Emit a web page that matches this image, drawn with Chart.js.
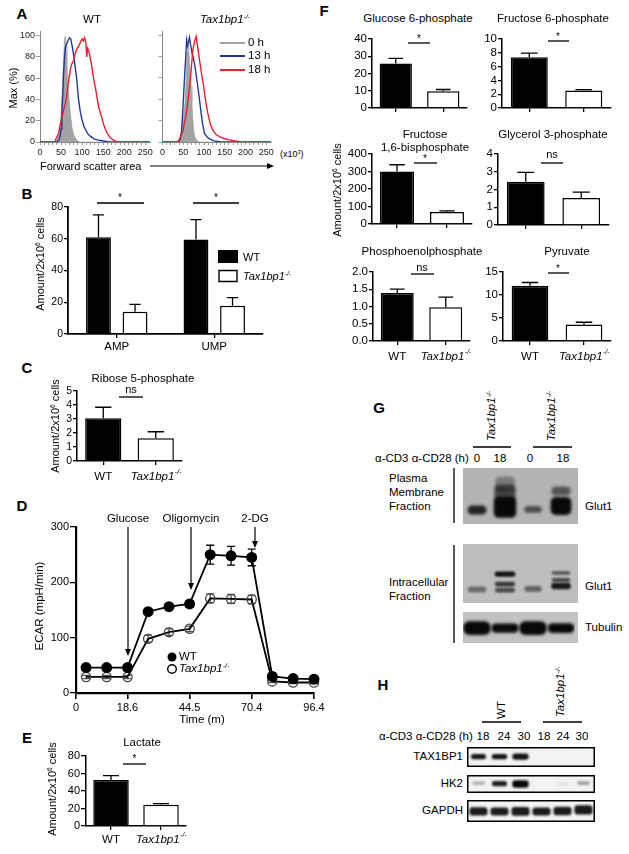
<!DOCTYPE html>
<html><head><meta charset="utf-8">
<script src="https://cdn.jsdelivr.net/npm/chart.js@4.4.1/dist/chart.umd.min.js"></script>
<style>
html,body{margin:0;padding:0;background:#fff}
body{position:relative;width:629px;height:854px;overflow:hidden;font-family:"Liberation Sans",Arial,Helvetica,sans-serif;color:#000}
.t{position:absolute;white-space:nowrap;line-height:1}
canvas{position:absolute}
svg{position:absolute;left:0;top:0}
.sup{font-size:60%;position:relative;top:-0.6em}
</style></head><body>
<script>
// ================= DATA =================
// A: forward scatter histograms  [FSC-A (x10^3), % of max]
const fscTicks = [0, 50, 100, 150, 200, 250];
const maxTicks = [0, 20, 40, 60, 80, 100];
const wt0h = [[0,0],[35,0],[40,2],[45,8],[50,26],[53,48],[56,78],[58,96],[60,100],[62,90],[64,74],[66,58],[68,46],[70,36],[73,24],[76,14],[80,7],[85,3],[90,1],[95,0],[260,0]];
const wt13h = [[0,0],[40,0],[45,2],[48,6],[50,12],[52,28],[54,45],[56,65],[58,78],[60,88],[63,92],[66,95],[70,98],[73,97],[76,91],[79,84],[83,72],[87,60],[91,42],[95,30],[99,22],[104,15],[110,10],[115,7],[121,5],[128,3],[136,2],[150,1],[165,0],[260,0]];
const wt18h = [[0,0],[35,0],[38,3],[44,8],[49,18],[55,28],[60,36],[63,42],[67,55],[71,66],[75,73],[80,77],[84,84],[88,88],[92,90],[96,94],[100,97],[103,95],[106,98],[109,93],[111,80],[113,88],[116,85],[120,78],[124,68],[128,58],[132,50],[136,40],[140,32],[145,25],[150,18],[155,12],[160,8],[165,5],[170,3],[178,1],[185,0],[260,0]];
const ko0h = [[0,0],[38,0],[42,3],[46,11],[50,22],[54,38],[57,60],[59,85],[61,97],[63,88],[66,70],[69,52],[71,38],[73,22],[75,12],[78,5],[82,2],[88,0],[260,0]];
const ko13h = [[0,0],[38,0],[42,2],[46,10],[50,38],[53,60],[56,80],[58,95],[60,90],[63,94],[65,98],[68,90],[72,82],[77,74],[81,63],[85,52],[89,40],[93,27],[97,16],[101,8],[107,5],[113,3],[125,1],[140,0],[260,0]];
const ko18h = [[0,0],[36,0],[40,2],[45,6],[50,12],[54,20],[58,28],[62,42],[66,54],[70,72],[73,86],[77,94],[81,99],[85,88],[89,77],[94,64],[99,52],[104,38],[109,27],[115,17],[121,11],[129,7],[137,5],[150,3],[161,2],[175,1],[190,0],[260,0]];

// genotypes
const genotypes = ['WT', 'Tax1bp1-/-'];

// B: nucleotides
const nucleotides = ['AMP', 'UMP'];
const nucWT = [61, 59.5];
const nucWTErr = [14, 12.5];
const nucKO = [14, 17.8];
const nucKOErr = [4.7, 5.1];

// C: ribose 5-phosphate
const riboseVal = [3.05, 1.62];
const riboseErr = [0.79, 0.47];

// D: ECAR time course
const ecarTime = [1.3, 9.9, 18.6, 27.2, 35.9, 44.5, 53.1, 61.8, 70.4, 79.0, 87.7, 96.4];
const ecarWT = [46, 46, 46, 147, 156, 161, 250, 248, 245, 30, 26, 25];
const ecarWTErr = [3, 3, 3, 5, 5, 6, 17, 17, 15, 3, 2, 2];
const ecarKO = [29, 29, 29, 98, 110, 116, 171, 170, 169, 21, 19, 19];
const ecarKOErr = [3, 3, 3, 6, 6, 5, 8, 8, 8, 2, 2, 2];
const timeTickValues = [-2.9, 18.6, 44.5, 70.4, 96.4];
const timeTickLabels = ['0', '18.6', '44.5', '70.4', '96.4'];

// E: lactate
const lactateVal = [52.5, 24.2];
const lactateErr = [5, 1.4];

// F: glycolytic metabolites
const fTitles = ['Glucose 6-phosphate', 'Fructose 6-phosphate', 'Fructose 1,6-bisphosphate', 'Glycerol 3-phosphate', 'Phosphoenolphosphate', 'Pyruvate'];
const fWT = [25.8, 7.33, 299, 2.44, 1.39, 12.0];
const fWTErr = [2.9, 0.62, 39, 0.52, 0.11, 0.7];
const fKO = [9.7, 2.52, 69, 1.52, 0.98, 3.57];
const fKOErr = [1.0, 0.15, 6, 0.33, 0.29, 0.5];
const fMax = [40, 10, 400, 4, 2, 15];
const fStep = [10, 2, 100, 1, 0.5, 5];

// G/H: western blots. band = [lane, migration(0 top..1 bottom), band height, intensity, band width]
const gLanes = ['0', '18', '0', '18'];
const gMembraneBands = [[0,0.75,0.16,0.85,0.68],[1,0.3,0.3,0.35,0.7],[1,0.45,0.3,0.6,0.76],[1,0.7,0.38,1,0.8],[2,0.74,0.12,0.6,0.62],[3,0.41,0.16,0.55,0.7],[3,0.68,0.32,1,0.74]];
const gIntraBands = [[0,0.77,0.1,0.45,0.66],[1,0.51,0.09,0.95,0.74],[1,0.68,0.08,0.75,0.72],[1,0.78,0.08,0.65,0.72],[2,0.76,0.1,0.5,0.62],[3,0.49,0.06,0.6,0.66],[3,0.61,0.07,0.65,0.66],[3,0.71,0.11,0.9,0.7]];
const gTubulinBands = [[0,0.52,0.45,1,0.98],[1,0.52,0.3,1,0.98],[2,0.52,0.45,1,0.98],[3,0.52,0.32,1,0.95]];
const hLanes = ['18', '24', '30', '18', '24', '30'];
const hTaxBands = [[0,0.48,0.26,0.95,0.72],[1,0.48,0.26,0.95,0.74],[2,0.48,0.32,0.95,0.78]];
const hHk2Bands = [[0,0.45,0.18,0.3,0.6],[1,0.48,0.28,0.9,0.72],[2,0.5,0.42,1,0.78],[4,0.5,0.12,0.1,0.5],[5,0.45,0.2,0.35,0.6]];
const hGapdhBands = [[0,0.52,0.38,0.92,0.86],[1,0.52,0.36,0.92,0.86],[2,0.52,0.4,0.92,0.86],[3,0.52,0.36,0.92,0.86],[4,0.5,0.38,0.92,0.86],[5,0.45,0.42,0.92,0.86]];

// ================= HELPERS =================
const FONT = '"Liberation Sans", Arial, Helvetica, sans-serif';
Chart.defaults.font.family = FONT;
Chart.defaults.color = '#000';
Chart.defaults.animation = false;

const TAX = '<i>Tax1bp1</i><span class="sup"><i>-/-</i></span>';
function T(html, x, y, o = {}) {
  const d = document.createElement('div');
  d.className = 't'; d.innerHTML = html;
  d.style.left = x + 'px'; d.style.top = y + 'px';
  d.style.fontSize = (o.s || 11.5) + 'px';
  if (o.b) d.style.fontWeight = 'bold';
  if (o.i) d.style.fontStyle = 'italic';
  let tr = 'translate(-50%,-50%)';
  if (o.a === 'l') tr = 'translate(0,-50%)';
  if (o.a === 'r') tr = 'translate(-100%,-50%)';
  if (o.rot) tr = 'translate(-50%,-50%) rotate(-90deg)';
  d.style.transform = tr;
  document.body.appendChild(d);
}

function drawRich(ctx, label, x, y, size) {
  let main = label, sup = '';
  if (label.endsWith('-/-')) { main = label.slice(0, -3); sup = '-/-'; }
  const it = sup ? 'italic ' : '';
  ctx.save();
  ctx.fillStyle = '#000'; ctx.textBaseline = 'middle'; ctx.textAlign = 'left';
  ctx.font = it + size + 'px ' + FONT;
  const w1 = ctx.measureText(main).width;
  ctx.font = it + (size * 0.6) + 'px ' + FONT;
  const w2 = sup ? ctx.measureText(sup).width : 0;
  const sx = x - (w1 + w2) / 2;
  ctx.font = it + size + 'px ' + FONT;
  ctx.fillText(main, sx, y);
  if (sup) { ctx.font = it + (size * 0.6) + 'px ' + FONT; ctx.fillText(sup, sx + w1 + 0.5, y - size * 0.4); }
  ctx.restore();
}

const errPlugin = {
  id: 'errbars',
  beforeDatasetsDraw(chart) {
    const ctx = chart.ctx, ys = chart.scales.y;
    chart.data.datasets.forEach((ds, i) => {
      if (!ds.errors) return;
      const meta = chart.getDatasetMeta(i);
      meta.data.forEach((el, j) => {
        const v = ds.data[j]; const e = ds.errors[j];
        if (v == null || e == null) return;
        const val = typeof v === 'object' ? v.y : v;
        const x = el.x;
        const yTop = ys.getPixelForValue(val + e);
        const yBot = ds.errBoth ? ys.getPixelForValue(val - e) : el.y;
        const cap = ds.capW || (el.width ? el.width * 0.45 : 8);
        ctx.save(); ctx.strokeStyle = ds.errColor || '#000'; ctx.lineWidth = 1.3;
        ctx.beginPath();
        ctx.moveTo(x, yBot); ctx.lineTo(x, yTop);
        ctx.moveTo(x - cap / 2, yTop); ctx.lineTo(x + cap / 2, yTop);
        if (ds.errBoth) { ctx.moveTo(x - cap / 2, yBot); ctx.lineTo(x + cap / 2, yBot); }
        ctx.stroke(); ctx.restore();
      });
    });
  }
};
const catLabelPlugin = {
  id: 'catLabels',
  afterDraw(chart, args, opts) {
    if (!opts || !opts.show) return;
    const xs = chart.scales.x;
    chart.data.labels.forEach((lab, i) => {
      drawRich(chart.ctx, lab, xs.getPixelForValue(i), chart.chartArea.bottom + opts.dy, opts.size || 11.5);
    });
  }
};
const blotPlugin = {
  id: 'blot',
  beforeDraw(chart, args, opts) {
    if (!opts || !opts.bg) return;
    const ctx = chart.ctx;
    ctx.save(); ctx.fillStyle = opts.bg; ctx.fillRect(0, 0, chart.width, chart.height); ctx.restore();
  },
  beforeDatasetsDraw(chart, args, opts) {
    if (!opts || !opts.blur) return;
    chart.ctx.save(); chart.ctx.filter = 'blur(' + opts.blur + 'px)';
  },
  afterDatasetsDraw(chart, args, opts) {
    if (!opts || !opts.blur) return;
    chart.ctx.restore();
  },
  afterDraw(chart, args, opts) {
    if (!opts || !opts.border) return;
    const ctx = chart.ctx;
    ctx.save(); ctx.strokeStyle = '#000'; ctx.lineWidth = 1.5;
    ctx.strokeRect(0.75, 0.75, chart.width - 1.5, chart.height - 1.5); ctx.restore();
  }
};
Chart.register(errPlugin, catLabelPlugin, blotPlugin);

// area = [x0,x1,y0,y1] plot area in page px; pad = [L,R,T,B]
function mk(area, pad, config) {
  const w = Math.round(area[1] - area[0] + pad[0] + pad[1]);
  const h = Math.round(area[3] - area[2] + pad[2] + pad[3]);
  const c = document.createElement('canvas');
  c.width = w; c.height = h;
  c.style.left = (area[0] - pad[0]) + 'px'; c.style.top = (area[2] - pad[2]) + 'px';
  c.style.width = w + 'px'; c.style.height = h + 'px';
  document.body.appendChild(c);
  const o = config.options = config.options || {};
  o.responsive = false; o.animation = false; o.devicePixelRatio = 1; o.events = [];
  o.plugins = Object.assign({ legend: { display: false }, tooltip: { enabled: false } }, o.plugins || {});
  if (o.scales && o.scales.x && o.scales.x.display !== false) {
    o.layout = { padding: { left: 0, right: pad[1], top: pad[2], bottom: 0 } };
    o.scales.x.afterFit = s => { s.height = pad[3]; };
    o.scales.y.afterFit = s => { s.width = pad[0]; };
  } else {
    o.layout = { padding: { left: pad[0], right: pad[1], top: pad[2], bottom: pad[3] } };
  }
  return new Chart(c, config);
}
function catX(lw) {
  return { type: 'category', offset: true, ticks: { display: false },
    grid: { offset: false, drawOnChartArea: false, drawTicks: true, tickLength: 4, color: '#000', lineWidth: 1.3 },
    border: { display: true, color: '#000', width: lw || 1.5 } };
}
function linY(min, max, step, size, tl, fmt, lw) {
  const t = { stepSize: step, autoSkip: false, font: { size: size }, padding: 1, color: '#000' };
  if (fmt) t.callback = fmt;
  return { type: 'linear', min: min, max: max, ticks: t,
    grid: { drawOnChartArea: false, drawTicks: true, tickLength: tl, color: '#000', lineWidth: 1.3 },
    border: { display: true, color: '#000', width: lw || 1.5 } };
}
function pairBars(area, pad, labels, vals, errs, yAx, barPct, dy) {
  return mk(area, pad, {
    type: 'bar',
    data: { labels: labels, datasets: [{ data: vals, errors: errs, backgroundColor: ['#000', '#fff'], borderColor: '#000', borderWidth: 1.5, barPercentage: barPct, categoryPercentage: 1 }] },
    options: { scales: { x: catX(), y: yAx }, plugins: { catLabels: { show: dy != null, dy: dy, size: 11.5 } } }
  });
}
function blot(area, pad, lanes, bands, bg, border, blur, radius) {
  return mk(area, pad, {
    type: 'bar',
    data: { labels: lanes, datasets: bands.map(b => ({
      data: lanes.map((_, i) => i === b[0] ? [b[1] - b[2] / 2, b[1] + b[2] / 2] : null),
      backgroundColor: 'rgba(8,8,8,' + b[3] + ')', borderWidth: 0, borderRadius: radius, borderSkipped: false,
      grouped: false, barPercentage: b[4], categoryPercentage: 1 })) },
    options: { scales: { x: { display: false, offset: true }, y: { display: false, min: 0, max: 1, reverse: true } },
      plugins: { blot: { bg: bg, border: border, blur: blur } } }
  });
}

// ================= A: histograms =================
function histo(area, pad, d0, d13, d18, showY) {
  const ln = (d, col) => ({ data: d.map(p => ({ x: p[0], y: p[1] })), showLine: true, pointRadius: 0, borderColor: col, borderWidth: 1.4, fill: false, tension: 0 });
  const gray = { data: d0.map(p => ({ x: p[0], y: p[1] })), showLine: true, pointRadius: 0, borderColor: '#a3a3a3', borderWidth: 0.6, backgroundColor: '#a3a3a3', fill: 'origin' };
  return mk(area, pad, {
    type: 'scatter',
    data: { datasets: [ln(d18, '#e8202a'), ln(d13, '#22389e'), gray] },
    options: { scales: {
      x: { type: 'linear', min: 0, max: 262,
        afterBuildTicks: s => { const t = []; for (let v = 0; v <= 250; v += 10) t.push({ value: v }); s.ticks = t; },
        ticks: { autoSkip: false, maxRotation: 0, font: { size: 9 }, padding: 2, color: '#222', callback: v => fscTicks.includes(v) ? String(v) : '' },
        grid: { drawOnChartArea: false, tickLength: 3, color: '#888', lineWidth: 0.8 }, border: { color: '#888', width: 1 } },
      y: { type: 'linear', min: 0, max: 104,
        afterBuildTicks: s => { s.ticks = maxTicks.map(v => ({ value: v })); },
        ticks: { display: showY, autoSkip: false, font: { size: 9 }, padding: 1, color: '#222' },
        grid: { drawOnChartArea: false, tickLength: 4, color: '#888', lineWidth: 0.8 }, border: { color: '#888', width: 1 } }
    } }
  });
}
histo([40, 151, 31, 142], [30, 4, 6, 18], wt0h, wt13h, wt18h, true);
histo([162, 272, 31, 142], [4, 4, 6, 18], ko0h, ko13h, ko18h, false);

// ================= B =================
mk([68, 263, 207, 334], [30, 6, 8, 22], {
  type: 'bar',
  data: { labels: nucleotides, datasets: [
    { data: nucWT, errors: nucWTErr, backgroundColor: '#000', borderColor: '#000', borderWidth: 1.5, barPercentage: 0.68, categoryPercentage: 0.75 },
    { data: nucKO, errors: nucKOErr, backgroundColor: '#fff', borderColor: '#000', borderWidth: 1.5, barPercentage: 0.68, categoryPercentage: 0.75 } ] },
  options: { scales: { x: catX(1.8), y: linY(0, 80, 20, 10.5, 4, null, 1.8) }, plugins: { catLabels: { show: true, dy: 13, size: 11.5 } } }
});

// ================= C =================
pairBars([77, 182, 391, 461], [26, 6, 8, 24], genotypes, riboseVal, riboseErr, linY(0, 5, 1, 10.5, 4), 0.69, 16);

// ================= D =================
mk([76, 314, 527, 693], [40, 14, 10, 24], {
  type: 'scatter',
  data: { datasets: [
    { data: ecarTime.map((t, i) => ({ x: t, y: ecarWT[i] })), errors: ecarWTErr, errBoth: true, capW: 8, showLine: true, borderColor: '#000', borderWidth: 1.8,
      pointRadius: 4.6, pointBackgroundColor: '#000', pointBorderColor: '#000', clip: false },
    { data: ecarTime.map((t, i) => ({ x: t, y: ecarKO[i] })), errors: ecarKOErr, errBoth: true, errColor: '#555', capW: 8, showLine: true, borderColor: '#000', borderWidth: 1.8,
      pointRadius: 4.6, pointBackgroundColor: 'rgba(255,255,255,0)', pointBorderColor: '#444', pointBorderWidth: 1.3, clip: false } ] },
  options: { scales: {
    x: { type: 'linear', min: -2.9, max: 96.4,
      afterBuildTicks: s => { s.ticks = timeTickValues.map(v => ({ value: v })); },
      ticks: { autoSkip: false, maxRotation: 0, font: { size: 11 }, padding: 2, color: '#000', callback: (v, i) => timeTickLabels[i] },
      grid: { drawOnChartArea: false, tickLength: 6, color: '#000', lineWidth: 1.6 }, border: { color: '#000', width: 2.2 } },
    y: linY(0, 300, 100, 11, 6, null, 2.2)
  } }
});

// ================= E =================
pairBars([86, 186, 756, 826], [30, 6, 8, 22], genotypes, lactateVal, lactateErr, linY(0, 80, 20, 11, 5), 0.71, 14);

// ================= F =================
const fAreas = [[372, 467, 38, 108], [502, 611, 38, 108], [372, 472, 153, 224], [498, 609, 153, 225], [373, 470, 271, 341], [503, 611, 271, 341]];
fAreas.forEach((a, k) => {
  const fmt = fMax[k] === 2 ? (v => v.toFixed(1)) : null;
  const withLabels = k >= 4;
  pairBars(a, [30, 6, 7, withLabels ? 24 : 8], genotypes, [fWT[k], fKO[k]], [fWTErr[k], fKOErr[k]],
    linY(0, fMax[k], fStep[k], 11.5, 4, fmt), 0.68, withLabels ? 16 : null);
});

// ================= G / H blots =================
blot([463, 575, 468, 524], [0, 3, 0, 0], gLanes, gMembraneBands, '#b4b4b4', false, 1.8, 5);
blot([463, 575, 544, 603], [0, 3, 0, 0], gLanes, gIntraBands, '#bebebe', false, 1.2, 3);
blot([463, 575, 612, 643], [0, 3, 0, 0], gLanes, gTubulinBands, '#c2c2c2', false, 1.4, 6);
blot([468, 594, 747, 767], [1, 1, 0, 0], hLanes, hTaxBands, '#f2f2f2', true, 1.0, 3);
blot([468, 594, 775, 793], [1, 1, 0, 0], hLanes, hHk2Bands, '#f2f2f2', true, 1.0, 3);
blot([468, 594, 800, 822], [1, 1, 0, 0], hLanes, hGapdhBands, '#f2f2f2', true, 1.0, 3);

// ================= TEXT =================
[['A', 22, 13], ['B', 27, 193], ['C', 27, 367], ['D', 22, 505], ['E', 27, 737], ['F', 324, 10], ['G', 379, 407], ['H', 383, 684]]
  .forEach(p => T(p[0], p[1], p[2], { s: 15, b: true }));
// A
T('WT', 92, 20, { s: 11.5 });
T(TAX, 225, 20, { s: 11.5 });
T('0 h', 248, 43, { a: 'l', s: 11.5 });
T('13 h', 248, 56, { a: 'l', s: 11.5 });
T('18 h', 248, 70, { a: 'l', s: 11.5 });
T('Max (%)', 13, 88, { rot: true, s: 11 });
T('(x10<span class="sup">3</span>)', 280, 154, { a: 'l', s: 9 });
T('Forward scatter area', 40, 166, { a: 'l', s: 11 });
// B
const AMT = 'Amount/2x10<span class="sup">6</span> cells';
T(AMT, 40, 264, { rot: true, s: 11 });
T('*', 120, 198, { s: 10 });
T('*', 216, 198, { s: 10 });
T('WT', 243, 257, { a: 'l', s: 11 });
T(TAX, 243, 276, { a: 'l', s: 11 });
// C
T('Ribose 5-phosphate', 143, 379, { s: 11.5 });
T(AMT, 55, 426, { rot: true, s: 11 });
T('ns', 131, 389, { s: 11 });
// D
T('Glucose', 128, 519, { s: 11.5 });
T('Oligomycin', 191, 519, { s: 11.5 });
T('2-DG', 255, 519, { s: 11.5 });
T('ECAR (mpH/min)', 40, 606, { rot: true, s: 11.5 });
T('Time (m)', 202, 720, { s: 11.5 });
T('WT', 179, 657, { a: 'l', s: 11.5 });
T(TAX, 179, 669, { a: 'l', s: 11.5 });
// E
T('Lactate', 142, 743, { s: 11.5 });
T(AMT, 52, 789, { rot: true, s: 11 });
T('*', 134.5, 759, { s: 10 });
// F
T(fTitles[0], 418, 19); T(fTitles[1], 553, 19);
T('Fructose', 425, 135); T('1,6-bisphosphate', 425, 148);
T(fTitles[3], 553, 135); T(fTitles[4], 422, 252); T(fTitles[5], 567, 252);
T(AMT, 337, 190, { rot: true, s: 11 });
T('*', 419, 39, { s: 10 }); T('*', 558, 37, { s: 10 }); T('*', 425, 159, { s: 10 });
T('ns', 552, 154, { s: 11 }); T('ns', 422, 267, { s: 11 }); T('*', 558, 269, { s: 10 });
// G
T(TAX, 492, 416, { rot: true, s: 11.5 });
T(TAX, 552, 416, { rot: true, s: 11.5 });
T('α-CD3 α-CD28 (h)', 375, 459, { a: 'l', s: 11.5 });
[[gLanes[0], 477], [gLanes[1], 500], [gLanes[2], 530], [gLanes[3], 563]].forEach(p => T(p[0], p[1], 459, { s: 11.5 }));
T('Plasma', 389, 479, { a: 'l' }); T('Membrane', 389, 493, { a: 'l' }); T('Fraction', 389, 507, { a: 'l' });
T('Glut1', 585, 507, { a: 'l' });
T('Intracellular', 389, 583, { a: 'l' }); T('Fraction', 389, 597, { a: 'l' });
T('Glut1', 585, 587, { a: 'l' });
T('Tubulin', 585, 628, { a: 'l' });
// H
T('WT', 502, 710, { rot: true, s: 11.5 });
T(TAX, 561, 692, { rot: true, s: 11.5 });
T('α-CD3 α-CD28 (h)', 379, 737, { a: 'l', s: 11.5 });
[483, 504, 524, 544, 563, 582].forEach((x, i) => T(hLanes[i], x, 737, { s: 11.5 }));
T('TAX1BP1', 463, 757, { a: 'r' });
T('HK2', 463, 784, { a: 'r' });
T('GAPDH', 463, 811, { a: 'r' });

// ================= LINES (svg overlay) =================
const NS = 'http://www.w3.org/2000/svg';
const svg = document.createElementNS(NS, 'svg');
svg.setAttribute('width', 629); svg.setAttribute('height', 854);
document.body.appendChild(svg);
function L(x1, y1, x2, y2, col, w) {
  const l = document.createElementNS(NS, 'line');
  l.setAttribute('x1', x1); l.setAttribute('y1', y1); l.setAttribute('x2', x2); l.setAttribute('y2', y2);
  l.setAttribute('stroke', col || '#000'); l.setAttribute('stroke-width', w || 1.3);
  svg.appendChild(l);
}
function P(pts, fill, stroke, sw) {
  const p = document.createElementNS(NS, 'polygon');
  p.setAttribute('points', pts); p.setAttribute('fill', fill);
  if (stroke) { p.setAttribute('stroke', stroke); p.setAttribute('stroke-width', sw || 1.3); }
  svg.appendChild(p);
}
function C(cx, cy, r, fill, stroke, sw) {
  const c = document.createElementNS(NS, 'circle');
  c.setAttribute('cx', cx); c.setAttribute('cy', cy); c.setAttribute('r', r); c.setAttribute('fill', fill);
  if (stroke) { c.setAttribute('stroke', stroke); c.setAttribute('stroke-width', sw); }
  svg.appendChild(c);
}
L(220, 43, 245, 43, '#a3a3a3', 2); L(220, 56, 245, 56, '#22389e', 2); L(220, 70, 245, 70, '#e8202a', 2);
L(150, 166, 268, 166, '#000', 1.2); P('267,163 274,166 267,169', '#000');
L(97, 203, 144, 203); L(193, 203, 239, 203);
P('218,250 238,250 238,263 218,263', '#000');
P('219,270.5 237,270.5 237,281.5 219,281.5', '#fff', '#000', 1.4);
L(119, 397, 143, 397); L(123, 764, 146, 764);
L(128, 527, 128, 650, '#000', 1.2); P('125,649 131,649 128,656', '#000');
L(191, 527, 191, 584, '#000', 1.2); P('188,583 194,583 191,590', '#000');
L(255, 527, 255, 542, '#000', 1.2); P('252,541 258,541 255,548', '#000');
C(172, 657, 4.5, '#000'); C(172, 669, 4.3, 'none', '#000', 1.4);
L(408, 43, 430, 43); L(548, 41, 569, 41); L(414, 163, 437, 163); L(541, 163, 563, 163); L(411, 274, 434, 274); L(548, 273, 569, 273);
L(454, 468, 454, 523); L(454, 545, 454, 643);
L(473, 447, 511, 447); L(533, 447, 572, 447);
L(482, 722, 521, 722); L(543, 722, 582, 722);
</script>
</body></html>
